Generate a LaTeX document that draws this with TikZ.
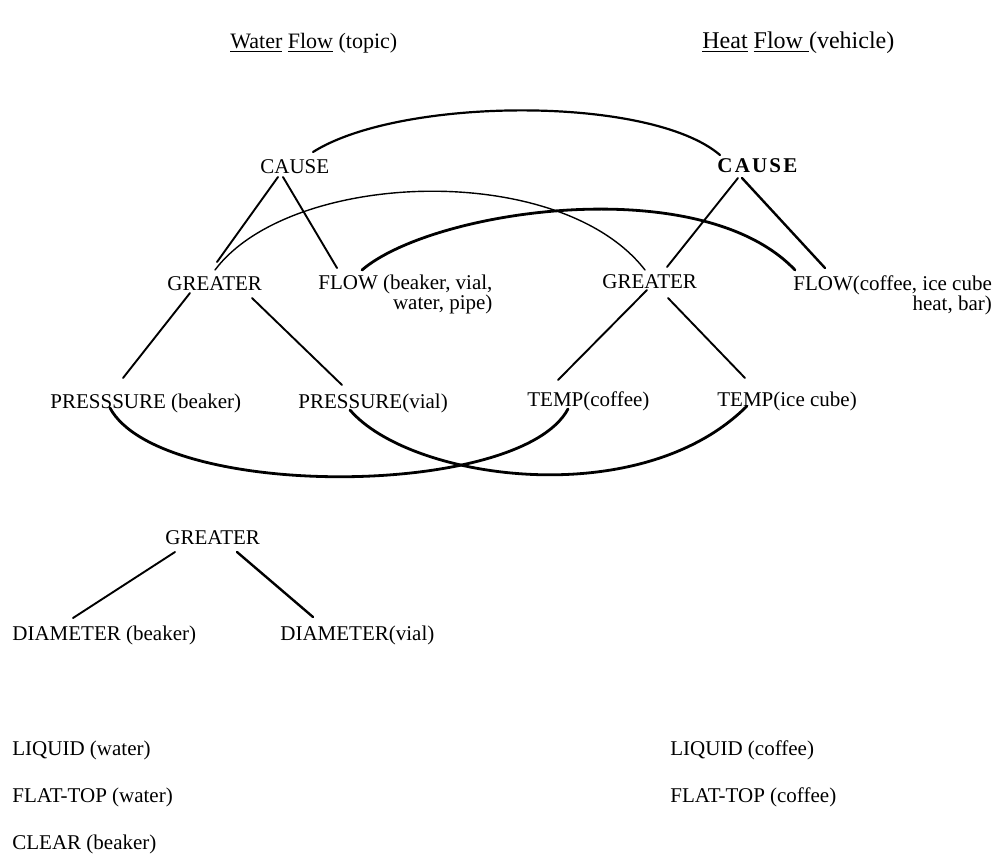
\documentclass[tikz,border=0pt]{standalone}
\usepackage{fontspec}
\setmainfont{Liberation Serif}
\newcommand*{\wdt}{992}
\newcommand*{\hgt}{853}
\newcommand*{\trk}{\kern1.1pt}

\begin{document}
\begin{tikzpicture}[x=0.5pt, y=-0.5pt, line cap=round, font=\fontsize{10.5}{10}\selectfont,
        lbl/.style={inner sep=0pt, anchor=base west},
        two/.style={inner sep=0pt, anchor=north west, align=right},
        link/.style={line width=0.95pt},
        thinarc/.style={line width=0.7pt},
        arc/.style={line width=1.4pt}]
    \useasboundingbox (0,0) rectangle (\wdt,\hgt);
        % titles
        \node [lbl, font=\fontsize{11}{12}\selectfont] (tW) at (230,48) {\underline{Water} \underline{Flow} (topic)};
        \node [lbl, font=\fontsize{12}{12}\selectfont] (tH) at (702,48) {\underline{Heat} \underline{Flow\ }(vehicle)};
        % water side
        \node [lbl] (cL)  at (260,173) {CAUSE};
        \node [lbl] (gL)  at (167,290) {GREATER};
        \node [two] (fL)  at (318,275) {FLOW (beaker, vial,\\ water, pipe)};
        \node [lbl] (pL1) at ( 50,408) {PRESSSURE (beaker)};
        \node [lbl] (pL2) at (298,408) {PRESSURE(vial)};
        \node [lbl] (gB)  at (165,544) {GREATER};
        \node [lbl] (dL)  at ( 12,640) {DIAMETER (beaker)};
        \node [lbl] (dR)  at (280,640) {DIAMETER(vial)};
        \node [lbl] (qW)  at ( 12,755) {LIQUID (water)};
        \node [lbl] (fW)  at ( 12,802) {FLAT-TOP (water)};
        \node [lbl] (kB)  at ( 12,849) {CLEAR (beaker)};
        % heat side
        \node [lbl] (cR)  at (717,172) {\textbf{C\trk A\trk U\trk S\trk E}};
        \node [lbl] (gR)  at (602,288) {GREATER};
        \node [two] (fR)  at (793,275) {FLOW(coffee, ice cube\\ heat, bar)};
        \node [lbl] (tR1) at (527,406) {TEMP(coffee)};
        \node [lbl] (tR2) at (717,406) {TEMP(ice cube)};
        \node [lbl] (qC)  at (670,755) {LIQUID (coffee)};
        \node [lbl] (fC)  at (670,802) {FLAT-TOP (coffee)};
        % trees
        \draw [link] ([xshift=9pt,yshift=-2pt]cL.base west) -- ([xshift=25pt,yshift=14pt]gL.base west);
        \draw [link] ([xshift=11.5pt,yshift=-2pt]cL.base west) -- ([xshift=9.5pt,yshift=3.5pt]fL.north west);
        \draw [link] ([xshift=11.5pt,yshift=-1.5pt]gL.base west) -- ([xshift=36.5pt,yshift=15pt]pL1.base west);
        \draw [link] ([xshift=42.5pt,yshift=-4pt]gL.base west) -- ([xshift=22pt,yshift=11.5pt]pL2.base west);
        \draw [link] ([xshift=10.5pt,yshift=-3pt]cR.base west) -- ([xshift=32.5pt,yshift=10.5pt]gR.base west);
        \draw [link, line width=1.2pt] ([xshift=12.5pt,yshift=-3pt]cR.base west) -- ([xshift=16pt,yshift=3.5pt]fR.north west);
        \draw [link] ([xshift=22.5pt,yshift=-1pt]gR.base west) -- ([xshift=15.5pt,yshift=13pt]tR1.base west);
        \draw [link] ([xshift=33pt,yshift=-5pt]gR.base west) -- ([xshift=14pt,yshift=14pt]tR2.base west);
        \draw [link] ([xshift=5pt,yshift=-4pt]gB.base west) -- ([xshift=30.5pt,yshift=11pt]dL.base west);
        \draw [link, line width=1.2pt] ([xshift=36pt,yshift=-4pt]gB.base west) -- ([xshift=16.5pt,yshift=11.5pt]dR.base west);
        % matches between the two sides
        \draw [link, line width=1.1pt] ([xshift=26.5pt,yshift=10.5pt]cL.base west) .. controls +(87,-55) and +(-70,-60) .. ([xshift=1.5pt,yshift=8.5pt]cR.base west);
        \draw [thinarc] ([xshift=24pt,yshift=10pt]gL.base west) .. controls +(75,-100) and +(-85,-110) .. ([xshift=21.5pt,yshift=9pt]gR.base west);
        \draw [arc] ([xshift=22pt,yshift=2.5pt]fL.north west) .. controls +(70,-60) and +(-95,-100) .. ([xshift=1pt,yshift=2.5pt]fR.north west);
        \draw [arc] ([xshift=30pt]pL1.base west) .. controls +(50,92) and +(-48,90) .. ([xshift=20.5pt,yshift=-1.5pt]tR1.base west);
        \draw [arc] ([xshift=26pt,yshift=-1pt]pL2.base west) .. controls +(60,70) and +(-107,107) .. ([xshift=15pt]tR2.base west);
    \end{tikzpicture}
\end{document}
